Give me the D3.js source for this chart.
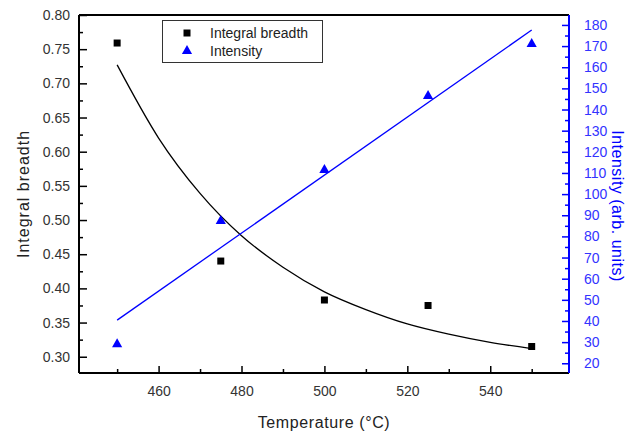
<!DOCTYPE html>
<html>
<head>
<meta charset="utf-8">
<script src="https://cdn.jsdelivr.net/npm/d3@7"></script>
<style>
	body { margin: 0; background: #fff; }
	svg { font-family: 'Liberation Sans', Arial, sans-serif; }
</style>
</head>
<body>
<div id="chart"></div>
<script>
// Data
const temps = [450, 475, 500, 525, 550];
const breadth = [0.759, 0.44, 0.383, 0.375, 0.315];
const intensity = [29, 87.3, 111.4, 146.4, 171];

// fitted curves as drawn
const fitBreadthX = [450, 460, 470, 480, 490, 500, 510, 520, 530, 540, 550];
const fitBreadthY = [0.727, 0.62, 0.539, 0.477, 0.431, 0.395, 0.369, 0.348, 0.333, 0.321, 0.312];
const fitIntensityX = [450, 550];
const fitIntensityY = [40.4, 177.6];

const xTicks = [460, 480, 500, 520, 540];
const leftTicks = [0.3, 0.35, 0.4, 0.45, 0.5, 0.55, 0.6, 0.65, 0.7, 0.75, 0.8];
const rightTicks = d3.range(20, 181, 10);

const width = 630;
const height = 434;
const margin = { top: 15, right: 61, bottom: 61, left: 79 };
const blue = '#0000ff';

const svg = d3
	.select('#chart')
	.append('svg')
	.attr('width', width)
	.attr('height', height);

// Scales
const xscale = d3
	.scaleLinear()
	.domain([440.8, 559.0])
	.range([margin.left, width - margin.right]);

const yLeft = d3
	.scaleLinear()
	.domain([0.2762, 0.80])
	.range([height - margin.bottom, margin.top]);

const yRight = d3
	.scaleLinear()
	.domain([15.4, 184.7])
	.range([height - margin.bottom, margin.top]);

const x0 = margin.left;
const x1 = width - margin.right;
const y0 = height - margin.bottom;
const y1 = margin.top;

// Axes (ticks inside)
const bottomAxis = d3.axisBottom(xscale).tickValues(xTicks).tickFormat(d3.format('d')).tickSize(-7).tickPadding(13);
const bottomMinor = d3.axisBottom(xscale).tickValues(d3.range(450, 559, 10).filter((d) => d % 20 != 0)).tickFormat('').tickSize(-4);
const leftAxis = d3.axisLeft(yLeft).tickValues(leftTicks).tickFormat(d3.format('.2f')).tickSize(-8).tickPadding(9);
const leftMinor = d3.axisLeft(yLeft).tickValues(d3.range(0.325, 0.8, 0.05)).tickFormat('').tickSize(-4);
const rightAxis = d3.axisRight(yRight).tickValues(rightTicks).tickSize(-7).tickPadding(15);
const rightMinor = d3.axisRight(yRight).tickValues(d3.range(25, 181, 10)).tickFormat('').tickSize(-4);

function styleAxis(g, color, textColor) {
	g.select('.domain').remove();
	g.selectAll('line').attr('stroke', color).attr('stroke-width', 1.5);
	g.selectAll('text').attr('fill', textColor).style('font-size', '14px');
}

svg.append('g').attr('transform', `translate(0, ${y0})`).call(bottomAxis).call((g) => styleAxis(g, '#000', '#333'));
svg.append('g').attr('transform', `translate(0, ${y0})`).call(bottomMinor).call((g) => styleAxis(g, '#000', '#333'));
svg.append('g').attr('transform', `translate(${x0}, 0)`).call(leftAxis).call((g) => styleAxis(g, '#000', '#333'));
svg.append('g').attr('transform', `translate(${x0}, 0)`).call(leftMinor).call((g) => styleAxis(g, '#000', '#333'));
svg.append('g').attr('transform', `translate(${x1}, 0)`).call(rightAxis).call((g) => styleAxis(g, blue, '#3333ff'));
svg.append('g').attr('transform', `translate(${x1}, 0)`).call(rightMinor).call((g) => styleAxis(g, blue, '#3333ff'));

// Frame
svg.append('line').attr('x1', x0).attr('x2', x1).attr('y1', y1).attr('y2', y1).attr('stroke', '#000').attr('stroke-width', 2);
svg.append('line').attr('x1', x0).attr('x2', x1).attr('y1', y0).attr('y2', y0).attr('stroke', '#000').attr('stroke-width', 2);
svg.append('line').attr('x1', x0).attr('x2', x0).attr('y1', y1).attr('y2', y0).attr('stroke', '#000').attr('stroke-width', 2);
svg.append('line').attr('x1', x1).attr('x2', x1).attr('y1', y1).attr('y2', y0).attr('stroke', blue).attr('stroke-width', 2);

// Fit lines
const breadthLine = d3
	.line()
	.x((d) => xscale(d[0]))
	.y((d) => yLeft(d[1]))
	.curve(d3.curveMonotoneX);

svg
	.append('path')
	.datum(fitBreadthX.map((d, i) => [d, fitBreadthY[i]]))
	.attr('d', breadthLine)
	.attr('fill', 'none')
	.attr('stroke', '#000')
	.attr('stroke-width', 1.3);

const intensityLine = d3
	.line()
	.x((d) => xscale(d[0]))
	.y((d) => yRight(d[1]));

svg
	.append('path')
	.datum(fitIntensityX.map((d, i) => [d, fitIntensityY[i]]))
	.attr('d', intensityLine)
	.attr('fill', 'none')
	.attr('stroke', blue)
	.attr('stroke-width', 1.3);

// Markers
const square = d3.symbol().type(d3.symbolSquare).size(49);
const triangle = d3.symbol().type(d3.symbolTriangle).size(45);

svg
	.selectAll('.sq')
	.data(temps)
	.enter()
	.append('path')
	.attr('class', 'sq')
	.attr('d', square)
	.attr('transform', (d, i) => `translate(${xscale(d)}, ${yLeft(breadth[i])})`)
	.attr('fill', '#000');

svg
	.selectAll('.tri')
	.data(temps)
	.enter()
	.append('path')
	.attr('class', 'tri')
	.attr('d', triangle)
	.attr('transform', (d, i) => `translate(${xscale(d)}, ${yRight(intensity[i])})`)
	.attr('fill', blue);

// Axis titles
svg
	.append('text')
	.attr('x', (x0 + x1) / 2)
	.attr('y', 428)
	.attr('text-anchor', 'middle')
	.attr('fill', '#222')
	.style('font-size', '16px')
	.style('letter-spacing', '0.6px')
	.text('Temperature (°C)');

svg
	.append('text')
	.attr('transform', `translate(29, ${(y0 + y1) / 2}) rotate(-90)`)
	.attr('text-anchor', 'middle')
	.attr('fill', '#222')
	.style('font-size', '16px')
	.style('letter-spacing', '1px')
	.text('Integral breadth');

svg
	.append('text')
	.attr('transform', `translate(612, ${(y0 + y1) / 2 + 12}) rotate(90)`)
	.attr('text-anchor', 'middle')
	.attr('fill', blue)
	.style('font-size', '16px')
	.style('letter-spacing', '0.5px')
	.text('Intensity (arb. units)');

// Legend
const legend = svg.append('g');
legend
	.append('rect')
	.attr('x', 162.5)
	.attr('y', 20.5)
	.attr('width', 160)
	.attr('height', 42)
	.attr('fill', '#fff')
	.attr('stroke', '#333')
	.attr('stroke-width', 1);
legend
	.append('path')
	.attr('d', square)
	.attr('transform', 'translate(187, 33)')
	.attr('fill', '#000');
legend
	.append('path')
	.attr('d', triangle)
	.attr('transform', 'translate(187, 51)')
	.attr('fill', blue);
legend
	.append('text')
	.attr('x', 210)
	.attr('y', 38)
	.attr('fill', '#222')
	.style('font-size', '14px')
	.text('Integral breadth');
legend
	.append('text')
	.attr('x', 210)
	.attr('y', 56)
	.attr('fill', '#222')
	.style('font-size', '14px')
	.text('Intensity');
</script>
</body>
</html>
